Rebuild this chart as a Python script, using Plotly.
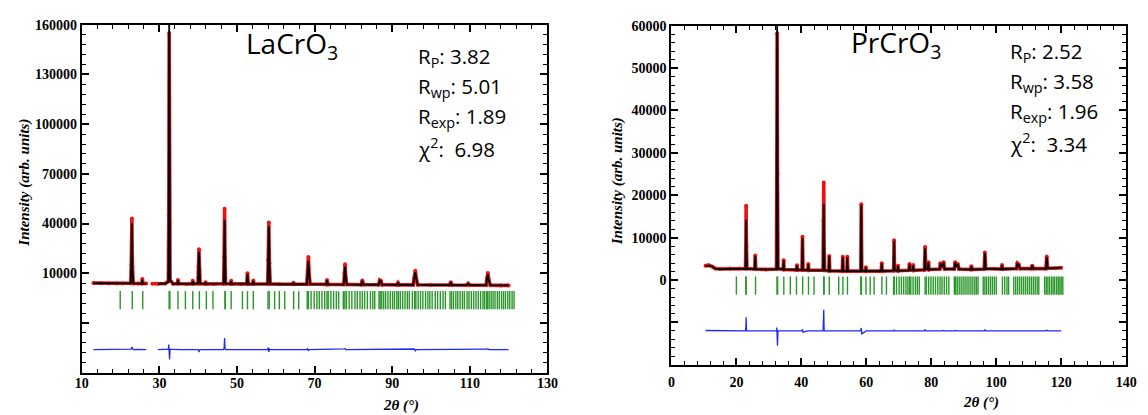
import plotly.graph_objects as go

# ---------------- LaCrO3 refinement profile ----------------
la_tt = [13.0, 15.0, 17.0, 19.0, 20.5, 22.6, 22.75, 22.9, 23.05, 23.25, 24.5, 25.45, 25.6, 25.75, 26.6,
         27.4, 28.2, 28.6, 29.0, 29.3,
         29.6, 31.5, 32.3, 32.42, 32.52, 32.62, 32.75, 33.5, 34.65, 34.8, 34.95, 37.0, 38.45, 38.6, 38.75,
         39.95, 40.08, 40.2, 40.35, 40.5, 41.75, 41.9, 42.05, 44.0, 46.55, 46.68, 46.8, 46.92, 47.05,
         48.35, 48.5, 48.65, 51.0, 52.5, 52.7, 52.9, 54.05, 54.2, 54.35, 57.9, 58.05, 58.2, 58.35, 58.55,
         61.0, 64.4, 64.55, 64.7, 68.0, 68.2, 68.4, 68.6, 68.85, 73.0, 73.2, 73.45, 77.5, 77.7, 77.85,
         78.05, 78.3, 82.0, 82.3, 82.6, 86.5, 86.8, 87.1, 87.4, 91.2, 91.5, 91.8, 95.4, 95.7, 95.95,
         96.2, 96.55, 100.0, 104.8, 105.1, 105.4, 109.2, 109.6, 110.0, 114.2, 114.45, 114.65, 114.9,
         115.3, 118.0, 120.0]
la_obs = [4100, 4000, 3900, 3900, 3800, 4000, 15000, 43000, 14000, 3900, 3800, 3900, 6500, 3900, 3800,
          None, 3700, None, 3750, None,
          3700, 3800, 5000, 45000, 155000, 40000, 6000, 3700, 3800, 6000, 3800, 3600, 3700, 5500, 3700,
          3800, 14000, 24500, 12000, 3800, 3600, 4600, 3600, 3500, 3700, 20000, 49000, 18000, 3800,
          3600, 5500, 3600, 3500, 3600, 10000, 3600, 3500, 5600, 3500, 3500, 18000, 40700, 16000, 3600,
          3400, 3400, 4300, 3400, 3400, 12000, 19900, 9000, 3500, 3300, 6000, 3300, 3200, 10000, 15500,
          7000, 3300, 3100, 5700, 3200, 3100, 5800, 5300, 3100, 3000, 4200, 3000, 3000, 7500, 11600,
          7000, 3100, 2900, 2900, 4600, 2900, 2800, 3800, 2800, 2800, 7000, 10200, 6000,
          2800, 2700, 2700]
la_calc = [4000, 3950, 3900, 3850, 3850, 3900, 14000, 40000, 13500, 3900, 3800, 3900, 6200, 3900, 3800,
           None, None, None, None, None,
           3700, 3750, 4800, 42000, 161000, 46000, 5800, 3700, 3800, 5800, 3800, 3600, 3700, 5300, 3700,
           3800, 13500, 23000, 12500, 3800, 3600, 4500, 3600, 3500, 3700, 19000, 42300, 17500, 3800,
           3600, 5300, 3600, 3500, 3600, 9600, 3600, 3500, 5400, 3500, 3500, 17000, 38300, 16500, 3600,
           3400, 3400, 4200, 3400, 3400, 11500, 17500, 9000, 3500, 3300, 5800, 3300, 3200, 9600, 14000,
           7000, 3300, 3100, 5500, 3200, 3100, 5600, 5200, 3100, 3000, 4100, 3000, 3000, 7200, 10600,
           7000, 3100, 2900, 2900, 4500, 2900, 2800, 3700, 2800, 2800, 6800, 9500, 6000,
           2800, 2700, 2700]
la_diff = [0, 100, -100, 50, -50, 100, 300, 1500, 200, 0, 50, -50, 300, 0, 0,
           None, 0, None, 0, None,
           0, 50, 200, 3000, -1000, -6000, 200, 0, 0, 200, 0, 0, 0, 200, 0,
           0, -500, -1500, -300, 0, 0, 100, 0, 0, 0, 1000, 7000, 500, 0,
           0, 200, 0, 0, 0, 400, 0, 0, 200, 0, 0, 1200, -1500, 600, 0,
           0, 0, 100, 0, 0, 500, -800, 0, 0, 0, 200, 0, 0, 400, 600,
           0, 0, 0, 200, 0, 0, 200, 100, 0, 0, 100, 0, 0, 300, -800,
           0, 0, 0, 0, 100, 0, 0, 100, 0, 0, 200, 500, 0,
           0, 0, 0]
la_diff_shift = -36000
la_bragg = [19.9, 23.0, 25.7, 32.5, 32.7, 34.8, 36.7, 38.6, 40.3, 42.1, 43.8, 46.9, 47.0, 48.5, 51.4,
            52.7, 54.2, 58.0, 58.3, 59.7, 60.9, 62.3, 64.6, 65.9, 68.1, 68.4, 69.1, 69.9, 70.6, 71.2,
            71.9, 72.6, 73.2, 73.5, 74.2, 74.9, 75.6, 76.2, 77.4, 77.8, 78.2, 78.9, 79.6, 80.4, 81.0,
            81.7, 82.3, 82.9, 83.6, 84.4, 85.0, 85.5, 86.6, 86.9, 87.3, 87.8, 88.3, 88.9, 89.5, 90.1,
            90.6, 91.2, 91.6, 92.1, 92.7, 93.3, 93.9, 94.4, 95.2, 95.8, 96.1, 96.7, 97.3, 97.9, 98.6,
            99.2, 99.7, 100.3, 101.1, 101.7, 102.4, 103.1, 103.7, 104.9, 105.3, 105.8, 106.4, 106.9,
            107.5, 108.1, 108.6, 109.3, 109.8, 110.4, 111.0, 111.6, 112.2, 112.8, 113.4, 113.8, 114.3,
            114.6, 115.0, 115.5, 116.0, 116.5, 117.1, 117.6, 118.2, 118.7, 119.2, 119.8, 120.3, 120.9,
            121.4]
la_bragg_level = -6250

# ---------------- PrCrO3 refinement profile ----------------
pr_tt = [10.5, 11.5, 12.5, 13.5, 15.0, 18.0, 21.0, 22.8, 22.92, 23.0, 23.1, 23.25, 25.65, 25.8, 25.95,
         29.0, 32.35, 32.45, 32.55, 32.65, 32.8, 34.4, 34.55, 34.7, 38.5, 38.65, 38.8, 40.2, 40.35,
         40.5, 42.0, 42.15, 42.3, 46.7, 46.8, 46.9, 47.0, 47.15, 48.45, 48.6, 48.75, 52.6, 52.75,
         52.9, 54.0, 54.15, 54.3, 58.3, 58.45, 58.6, 59.7, 59.85, 60.0, 64.6, 64.75, 64.9, 68.4,
         68.55, 68.7, 69.6, 69.75, 69.9, 73.1, 73.3, 73.5, 74.3, 74.45, 74.6, 77.9, 78.1, 78.3, 79.0,
         79.15, 79.3, 82.6, 82.8, 83.2, 83.8, 84.1, 87.1, 87.35, 87.8, 88.2, 88.5, 92.1, 92.35, 92.6,
         96.3, 96.5, 96.75, 101.6, 101.8, 102.0, 106.2, 106.5, 106.9, 107.3, 110.8, 111.1, 111.4,
         115.3, 115.55, 115.8, 118.0, 120.0]
pr_obs = [3400, 3500, 3200, 2700, 2600, 2700, 2700, 2700, 9000, 17500, 8000, 2700, 2600, 5800, 2600,
          2500, 2600, 30000, 58200, 25000, 2700, 2500, 4700, 2500, 2400, 3500, 2400, 2400, 10200,
          2400, 2300, 3800, 2300, 2300, 14000, 23000, 9000, 2300, 2200, 5700, 2200, 2100, 5500,
          2100, 2100, 5500, 2100, 2100, 17900, 2200, 2100, 3000, 2100, 2100, 3950, 2100, 2200,
          9400, 2300, 2200, 3400, 2200, 2300, 3800, 2400, 2300, 3550, 2300, 2400, 7800, 2700, 2500,
          4200, 2500, 2600, 3950, 3100, 4200, 2600, 2600, 4200, 3300, 3800, 2600, 2500, 3250, 2500,
          2600, 6500, 2700, 2600, 3550, 2600, 2700, 3950, 3700, 2700, 2700, 3400, 2700,
          2700, 5560, 2800, 2800, 2900]
pr_calc = [3300, 3400, 3200, 2700, 2600, 2700, 2700, 2700, 8000, 14200, 7500, 2700, 2600, 5600, 2600,
           2500, 2600, 31000, 61000, 28500, 2700, 2500, 4600, 2500, 2400, 3400, 2400, 2400, 10000,
           2400, 2300, 3700, 2300, 2300, 12000, 18000, 8500, 2300, 2200, 5600, 2200, 2100, 5400,
           2100, 2100, 5400, 2100, 2100, 17700, 2200, 2100, 3000, 2100, 2100, 3900, 2100, 2200,
           9200, 2300, 2200, 3300, 2200, 2300, 3700, 2400, 2300, 3500, 2300, 2400, 7500, 2700, 2500,
           4100, 2500, 2600, 3900, 3100, 4100, 2600, 2600, 4100, 3300, 3700, 2600, 2500, 3200, 2500,
           2600, 6300, 2700, 2600, 3500, 2600, 2700, 3900, 3600, 2700, 2700, 3400, 2700,
           2700, 5400, 2800, 2800, 2900]
pr_diff = [100, 100, 0, 0, 0, 50, -50, 0, 800, 3200, 300, 0, 0, 100, 0,
           0, 0, 800, -1000, -3500, 0, 0, 100, 0, 0, 100, 0, 0, 400,
           -300, 0, 100, 0, 0, 1500, 5000, 300, 0, 0, 100, 0, 0, 100,
           0, 0, 100, 0, 0, 700, -700, 0, 0, 0, 0, 50, 0, 0,
           300, 0, 0, 100, 0, 0, 100, 0, 0, 50, 0, 0, 300, 0, 0,
           100, 0, 0, 50, 0, 100, 0, 0, 100, 0, 100, 0, 0, 50, 0,
           0, 300, 0, 0, 50, 0, 0, 50, 100, 0, 0, 0, 0,
           0, 200, 0, 0, 0]
pr_diff_shift = -12000
pr_bragg = [20.0, 22.9, 23.0, 25.9, 32.5, 32.7, 34.6, 36.6, 38.5, 40.4, 42.2, 43.9, 46.9, 47.0, 48.6,
            51.5, 52.8, 54.2, 58.3, 58.5, 59.9, 61.2, 62.4, 64.8, 66.2, 68.4, 68.6, 69.3, 70.1, 70.8,
            71.5, 72.2, 72.8, 73.3, 73.7, 74.4, 75.1, 75.7, 76.3, 78.1, 78.5, 79.2, 79.9, 80.6, 81.3,
            82.0, 82.7, 83.3, 84.0, 84.7, 85.4, 87.1, 87.5, 88.0, 88.6, 89.2, 89.8, 90.4, 91.0, 91.6,
            92.2, 92.8, 93.4, 93.9, 94.4, 96.0, 96.5, 97.0, 97.6, 98.2, 98.8, 99.4, 100.0, 101.9,
            102.6, 103.3, 103.8, 105.4, 106.0, 106.6, 107.2, 107.8, 108.4, 109.0, 109.6, 110.2, 110.8,
            111.4, 112.0, 112.6, 113.1, 114.9, 115.4, 115.9, 116.4, 117.0, 117.5, 118.0, 118.6, 119.1,
            119.6, 120.0, 120.5]
pr_bragg_level = -1300

# Refinement figures of merit
la_stats = [("R<sub>P</sub>", "3.82"), ("R<sub>wp</sub>", "5.01"), ("R<sub>exp</sub>", "1.89"),
            ("χ<sup>2</sup>", "&nbsp;6.98")]
pr_stats = [("R<sub>P</sub>", "2.52"), ("R<sub>wp</sub>", "3.58"), ("R<sub>exp</sub>", "1.96"),
            ("χ<sup>2</sup>", "&nbsp;3.34")]

W, H = 1148, 415


def px(x):
    return x / W


def py(y):
    return 1 - y / H


RED = "rgb(235,20,20)"
BLACK = "black"
GREEN = "rgb(20,140,20)"
BLUE = "rgb(30,40,255)"

fig = go.Figure()


def add_panel(xa, ya, tt, obs, calc, diff, shift, bragg, level):
    # observed points, calculated profile, difference curve and Bragg reflection markers
    fig.add_trace(go.Scatter(x=tt, y=obs, mode="lines+markers", xaxis=xa, yaxis=ya,
                             line=dict(color=RED, width=3.6),
                             marker=dict(color=RED, size=4), showlegend=False))
    fig.add_trace(go.Scatter(x=tt, y=calc, mode="lines", xaxis=xa, yaxis=ya,
                             line=dict(color=BLACK, width=1.8), showlegend=False))
    fig.add_trace(go.Scatter(x=tt, y=[None if d is None else shift + d for d in diff],
                             mode="lines", xaxis=xa, yaxis=ya,
                             line=dict(color=BLUE, width=1.3), showlegend=False))
    fig.add_trace(go.Scatter(x=bragg, y=[level] * len(bragg), mode="markers", xaxis=xa, yaxis=ya,
                             marker=dict(symbol="line-ns", size=13,
                                         line=dict(color=GREEN, width=1.4)),
                             opacity=0.9, showlegend=False))


add_panel("x", "y", la_tt, la_obs, la_calc, la_diff, la_diff_shift, la_bragg, la_bragg_level)
add_panel("x2", "y2", pr_tt, pr_obs, pr_calc, pr_diff, pr_diff_shift, pr_bragg, pr_bragg_level)

tick_font = dict(family="Liberation Serif", size=14, color="black", weight="bold")
title_font = dict(family="Liberation Serif", size=15, color="black", weight="bold", style="italic")


def axis_common():
    return dict(showline=True, linewidth=2, linecolor="black", mirror="ticks",
                ticks="inside", ticklen=7, tickwidth=1.5, tickcolor="black",
                showgrid=False, zeroline=False, tickfont=tick_font)


la_xticks = [10, 30, 50, 70, 90, 110, 130]
la_yticks = [-50000, -20000, 10000, 40000, 70000, 100000, 130000, 160000]
pr_xticks = [0, 20, 40, 60, 80, 100, 120, 140]
pr_yticks = [-20000, -10000, 0, 10000, 20000, 30000, 40000, 50000, 60000]

fig.update_layout(
    width=W, height=H, margin=dict(l=0, r=0, t=0, b=0),
    paper_bgcolor="white", plot_bgcolor="white",
    xaxis=dict(domain=[px(76), px(549)], range=[10, 130], anchor="y",
               tickmode="array", tickvals=la_xticks, ticktext=[str(v) for v in la_xticks],
               ticklabelstandoff=-4,
               minor=dict(tickmode="linear", tick0=10, dtick=4, ticks="inside", ticklen=4,
                          tickwidth=1, tickcolor="black"),
               **axis_common()),
    yaxis=dict(domain=[py(372), py(18)], range=[-50000, 160000], anchor="x",
               tickmode="array", tickvals=la_yticks,
               ticktext=[str(v) if v > 0 else "" for v in la_yticks],
               minor=dict(tickmode="linear", tick0=10000, dtick=6000, ticks="inside", ticklen=4,
                          tickwidth=1, tickcolor="black"),
               **axis_common()),
    xaxis2=dict(domain=[px(675), px(1137)], range=[0, 140], anchor="y2",
                tickmode="array", tickvals=pr_xticks, ticktext=[str(v) for v in pr_xticks],
                ticklabelstandoff=3,
                minor=dict(tickmode="linear", tick0=0, dtick=4, ticks="inside", ticklen=4,
                           tickwidth=1, tickcolor="black"),
                **axis_common()),
    yaxis2=dict(domain=[py(364), py(19)], range=[-20000, 60000], anchor="x2",
                tickmode="array", tickvals=pr_yticks,
                ticktext=[str(v) if v >= 0 else "" for v in pr_yticks],
                minor=dict(tickmode="linear", tick0=0, dtick=2000, ticks="inside", ticklen=4,
                           tickwidth=1, tickcolor="black"),
                **axis_common()),
)

annotations = []
# axis titles
for xc, yc in [(18, 179), (620, 177)]:
    annotations.append(dict(x=px(xc), y=py(yc), xref="paper", yref="paper", showarrow=False,
                            text="Intensity (arb. units)", textangle=-90, font=title_font,
                            xanchor="center", yanchor="middle"))
for xc, yc in [(400, 405), (990, 402)]:
    annotations.append(dict(x=px(xc), y=py(yc), xref="paper", yref="paper", showarrow=False,
                            text="2θ (°)", font=title_font, xanchor="center", yanchor="middle"))

# compound names
name_font = dict(family="Open Sans", size=28, color="black")
for xc, yc, name in [(290, 39, "LaCrO<sub>3</sub>"), (903, 38, "PrCrO<sub>3</sub>")]:
    annotations.append(dict(x=px(xc), y=py(yc), xref="paper", yref="paper", showarrow=False,
                            text=name, font=name_font, xanchor="center", yanchor="middle"))

# refinement statistics
stat_font = dict(family="Open Sans", size=20.5, color="black")
for xl, stats, ys in [(416, la_stats, [51, 81, 112, 143]), (1017, pr_stats, [46, 76, 107, 138])]:
    for (lab, val), yc in zip(stats, ys):
        annotations.append(dict(x=px(xl), y=py(yc), xref="paper", yref="paper", showarrow=False,
                                text=f"{lab}: {val}", font=stat_font, align="left",
                                xanchor="left", yanchor="middle"))

fig.update_layout(annotations=annotations)

fig.write_html("out.html")
